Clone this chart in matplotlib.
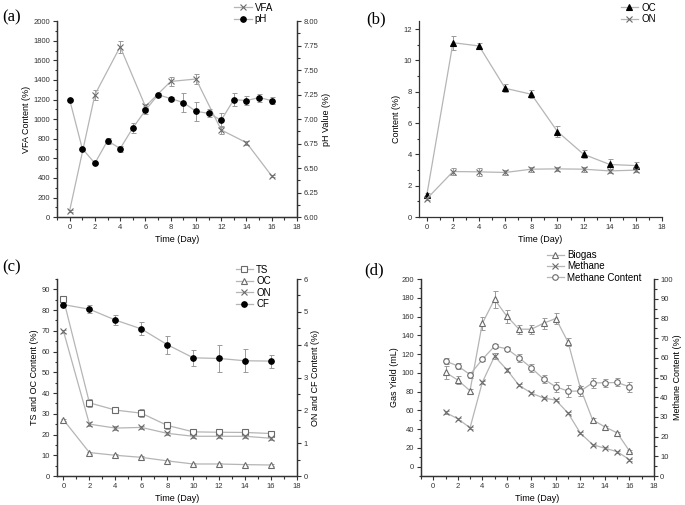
import matplotlib
matplotlib.use("Agg")
from matplotlib import pyplot as plt
from matplotlib.ticker import MultipleLocator

plt.rcParams["font.family"] = ["Liberation Sans", "DejaVu Sans"]

# ---- data ----
# (a)
vfa_day = [0, 2, 4, 6, 8, 10, 12, 14, 16]
vfa = [65, 1250, 1740, 1130, 1385, 1410, 890, 760, 420]
vfa_err = [10, 50, 60, 20, 50, 50, 40, 20, 10]
ph_day = list(range(17))
ph = [7.20, 6.70, 6.55, 6.78, 6.70, 6.91, 7.09, 7.25, 7.21, 7.17, 7.08, 7.06, 6.99, 7.20, 7.19, 7.22, 7.19]
ph_err = [0.01, 0.01, 0.01, 0.03, 0.03, 0.05, 0.04, 0.02, 0.02, 0.10, 0.10, 0.04, 0.07, 0.07, 0.05, 0.04, 0.04]

# (b)
b_day = [0, 2, 4, 6, 8, 10, 12, 14, 16]
oc_b = [1.42, 11.13, 10.92, 8.22, 7.84, 5.46, 4.01, 3.36, 3.29]
oc_b_err = [0.15, 0.45, 0.2, 0.25, 0.25, 0.35, 0.25, 0.35, 0.2]
on_b = [1.17, 2.91, 2.89, 2.85, 3.06, 3.08, 3.06, 2.95, 3.00]
on_b_err = [0.1, 0.25, 0.25, 0.15, 0.15, 0.15, 0.15, 0.15, 0.15]

# (c)
c_day = [0, 2, 4, 6, 8, 10, 12, 14, 16]
ts_c = [85.2, 35.3, 31.8, 30.3, 24.4, 21.3, 21.1, 21.0, 20.5]
ts_c_err = [1, 2, 1, 2, 1.5, 1, 1, 1, 1]
oc_c = [27.1, 11.3, 10.0, 9.0, 7.3, 5.8, 5.8, 5.5, 5.3]
oc_c_err = [0.5, 0.5, 0.5, 0.5, 0.5, 0.5, 0.5, 0.5, 0.5]
on_c = [4.41, 1.58, 1.46, 1.48, 1.30, 1.21, 1.21, 1.21, 1.15]
on_c_err = [0.05, 0.05, 0.05, 0.05, 0.05, 0.05, 0.05, 0.05, 0.05]
cf_c = [5.22, 5.08, 4.75, 4.48, 4.00, 3.60, 3.58, 3.51, 3.50]
cf_c_err = [0.05, 0.12, 0.15, 0.2, 0.27, 0.25, 0.4, 0.35, 0.2]

# (d)
d_day = list(range(1, 17))
biogas = [100.5, 92.3, 80.9, 152.6, 178.3, 160.4, 146.5, 146.5, 152.9, 157.9, 132.6, 83.8, 49.9, 42.4, 36.0, 16.8]
biogas_err = [7, 4, 2, 7, 9, 7, 5, 5, 6, 6, 4, 2, 2, 1, 1, 1]
methane = [57.8, 51.0, 41.4, 89.8, 117.6, 103.4, 86.6, 78.4, 73.1, 70.9, 57.0, 35.7, 23.5, 19.6, 16.0, 7.5]
methane_err = [2, 1, 1, 2, 3, 2, 1, 1, 1, 1, 1, 1, 1, 1, 1, 1]
mc = [58.3, 55.9, 51.5, 59.2, 65.9, 64.6, 60.0, 54.9, 49.2, 45.3, 43.1, 43.1, 47.3, 47.3, 47.5, 45.3]
mc_err = [1.5, 1.5, 1.5, 1.0, 1.0, 1.0, 2.0, 2.0, 2.0, 2.5, 3.0, 2.5, 2.5, 2.0, 2.0, 2.5]

# ---- styling ----
line_col = "#b5b5b5"
mark_col = "#6a6a6a"
err_col = "#9a9a9a"
spine_col = "#333333"
tick_fs = 5.5
label_fs = 6.5
leg_fs = 7


def style_axis(ax, right=False):
    for s in ax.spines.values():
        s.set_color(spine_col)
        s.set_linewidth(0.9)
    ax.spines["top"].set_visible(False)
    if not right:
        ax.spines["right"].set_visible(False)
    ax.tick_params(which="both", direction="out", colors=spine_col, labelsize=tick_fs, width=0.8)
    ax.tick_params(which="major", length=3, pad=2)
    ax.tick_params(which="minor", length=1.8)


def series(ax, x, y, err, marker, filled, label, ms=4):
    fc = "black" if filled else "white"
    ec = "black" if filled else mark_col
    if marker == "x":
        fc = mark_col
    ax.errorbar(x, y, yerr=err, fmt="none", ecolor=err_col, elinewidth=0.7,
                capsize=1.8, capthick=0.7, zorder=2)
    ax.plot(x, y, color=line_col, lw=0.9, marker=marker, ms=ms, mfc=fc, mec=ec,
            mew=0.8, label=label, zorder=3)


def legend(ax, handles, x, y):
    ax.legend(handles=handles, loc="upper left", bbox_to_anchor=(x, y),
              bbox_transform=fig.transFigure, frameon=False, fontsize=leg_fs,
              borderpad=0, borderaxespad=0, labelspacing=0.15, handlelength=1.8,
              handletextpad=0.3)


fig = plt.figure(figsize=(6.85, 5.05), dpi=100)

# (a)
axa = fig.add_axes([0.0832, 0.570, 0.3504, 0.388])
axa2 = axa.twinx()
series(axa, vfa_day, vfa, vfa_err, "x", False, "VFA")
series(axa2, ph_day, ph, ph_err, "o", True, "pH")
axa.set_xlim(-1, 18)
axa.set_ylim(0, 2000)
axa2.set_ylim(6, 8)
axa.xaxis.set_major_locator(MultipleLocator(2))
axa.xaxis.set_minor_locator(MultipleLocator(1))
axa.yaxis.set_major_locator(MultipleLocator(200))
axa.yaxis.set_minor_locator(MultipleLocator(100))
axa2.yaxis.set_major_locator(MultipleLocator(0.25))
axa2.yaxis.set_minor_locator(MultipleLocator(0.125))
axa2.yaxis.set_major_formatter(lambda v, p: f"{v:.2f}")
style_axis(axa, right=True)
style_axis(axa2, right=True)
axa.set_xlabel("Time (Day)", fontsize=label_fs, labelpad=3)
axa.set_ylabel("VFA Content (%)", fontsize=label_fs, labelpad=2)
axa2.set_ylabel("pH Value (%)", fontsize=label_fs, labelpad=2)
ha = axa.get_legend_handles_labels()[0] + axa2.get_legend_handles_labels()[0]
legend(axa2, ha, 0.342, 0.995)

# (b)
axb = fig.add_axes([0.6117, 0.570, 0.3547, 0.388])
series(axb, b_day, oc_b, oc_b_err, "^", True, "OC")
series(axb, b_day, on_b, on_b_err, "x", False, "ON")
axb.set_xlim(-0.6, 18)
axb.set_ylim(0, 12.5)
axb.xaxis.set_major_locator(MultipleLocator(2))
axb.xaxis.set_minor_locator(MultipleLocator(1))
axb.yaxis.set_major_locator(MultipleLocator(2))
axb.yaxis.set_minor_locator(MultipleLocator(1))
style_axis(axb)
axb.set_xlabel("Time (Day)", fontsize=label_fs, labelpad=3)
axb.set_ylabel("Content (%)", fontsize=label_fs, labelpad=2)
legend(axb, axb.get_legend_handles_labels()[0], 0.906, 0.995)

# (c)
axc = fig.add_axes([0.0832, 0.0574, 0.3504, 0.3901])
axc2 = axc.twinx()
series(axc, c_day, ts_c, ts_c_err, "s", False, "TS")
series(axc, c_day, oc_c, oc_c_err, "^", False, "OC")
series(axc2, c_day, on_c, on_c_err, "x", False, "ON")
series(axc2, c_day, cf_c, cf_c_err, "o", True, "CF")
axc.set_xlim(-0.5, 18)
axc.set_ylim(0, 95)
axc2.set_ylim(0, 6)
axc.xaxis.set_major_locator(MultipleLocator(2))
axc.xaxis.set_minor_locator(MultipleLocator(1))
axc.yaxis.set_major_locator(MultipleLocator(10))
axc.yaxis.set_minor_locator(MultipleLocator(5))
axc2.yaxis.set_major_locator(MultipleLocator(1))
axc2.yaxis.set_minor_locator(MultipleLocator(0.5))
style_axis(axc, right=True)
style_axis(axc2, right=True)
axc.set_xlabel("Time (Day)", fontsize=label_fs, labelpad=3)
axc.set_ylabel("TS and OC Content (%)", fontsize=label_fs, labelpad=2)
axc2.set_ylabel("ON and CF Content (%)", fontsize=label_fs, labelpad=2)
hc = axc.get_legend_handles_labels()[0] + axc2.get_legend_handles_labels()[0]
legend(axc2, hc, 0.344, 0.476)

# (d)
axd = fig.add_axes([0.6146, 0.0574, 0.3400, 0.3901])
axd2 = axd.twinx()
series(axd, d_day, biogas, biogas_err, "^", False, "Biogas")
series(axd, d_day, methane, methane_err, "x", False, "Methane")
series(axd2, d_day, mc, mc_err, "o", False, "Methane Content")
axd.set_xlim(-1, 18)
axd.set_ylim(-10, 200)
axd2.set_ylim(0, 100)
axd.xaxis.set_major_locator(MultipleLocator(2))
axd.xaxis.set_minor_locator(MultipleLocator(1))
axd.set_yticks(range(0, 201, 20))
axd.yaxis.set_minor_locator(MultipleLocator(10))
axd2.yaxis.set_major_locator(MultipleLocator(10))
axd2.yaxis.set_minor_locator(MultipleLocator(5))
style_axis(axd, right=True)
style_axis(axd2, right=True)
axd2.tick_params(which="major", pad=1.5)
axd.set_xlabel("Time (Day)", fontsize=label_fs, labelpad=3)
axd.set_ylabel("Gas Yield (mL)", fontsize=label_fs, labelpad=2)
axd2.set_ylabel("Methane Content (%)", fontsize=label_fs, labelpad=0.5)
hd = axd.get_legend_handles_labels()[0] + axd2.get_legend_handles_labels()[0]
legend(axd2, hd, 0.798, 0.505)

# panel letters
for x, y, t in [(0.004, 0.965, "(a)"), (0.535, 0.962, "(b)"), (0.004, 0.47, "(c)"), (0.532, 0.465, "(d)")]:
    fig.text(x, y, t, fontsize=12, family="Liberation Serif", va="center")

plt.savefig("out.png", dpi=100)
